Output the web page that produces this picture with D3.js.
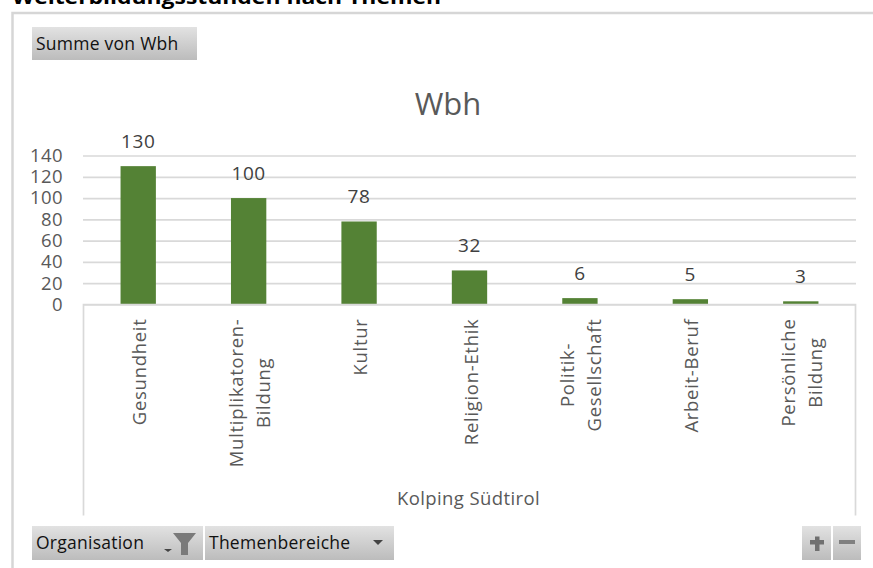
<!DOCTYPE html>
<html>
<head>
<meta charset="utf-8">
<script src="https://cdn.jsdelivr.net/npm/d3@7"></script>
<style>
  html, body { margin: 0; padding: 0; background: #fff; }
  svg { display: block; font-family: "Open Sans", "Noto Sans", sans-serif; }
</style>
</head>
<body>
<svg width="873" height="568"></svg>
<script>
const categories = ['Gesundheit', 'Multiplikatoren-|Bildung', 'Kultur', 'Religion-Ethik', 'Politik-|Gesellschaft', 'Arbeit-Beruf', 'Persönliche|Bildung'];
const values = [130, 100, 78, 32, 6, 5, 3];
const yTicks = [0, 20, 40, 60, 80, 100, 120, 140];
const filterButtons = ['Organisation', 'Themenbereiche'];

const svg = d3.select('svg');
const margin = { top: 155.5, right: 17, bottom: 263.5, left: 83 };
const width = 873, height = 568;
const innerWidth = width - margin.left - margin.right;
const innerHeight = height - margin.top - margin.bottom;

// gradient for the pivot buttons
const grad = svg.append('defs').append('linearGradient')
  .attr('id', 'btn').attr('x1', 0).attr('x2', 0).attr('y1', 0).attr('y2', 1);
grad.append('stop').attr('offset', '0%').attr('stop-color', '#e2e2e2');
grad.append('stop').attr('offset', '100%').attr('stop-color', '#bcbcbc');

// page heading, cut off at the top
svg.append('text').attr('x', 12).attr('y', 4)
  .attr('font-size', 20).attr('font-weight', 700).attr('fill', '#000')
  .attr('textLength', 429).attr('lengthAdjust', 'spacingAndGlyphs')
  .text('Weiterbildungsstunden nach Themen');

// outer frame
svg.append('path')
  .attr('d', 'M12.5 568V13H873')
  .attr('fill', 'none').attr('stroke', '#d6d6d6').attr('stroke-width', 2.5);

const button = (x, y, w, h, label) => {
  svg.append('rect').attr('x', x).attr('y', y).attr('width', w).attr('height', h).attr('fill', 'url(#btn)');
  if (label) {
    svg.append('text').attr('x', x + 4).attr('y', y + 23)
      .attr('font-size', 17.5).attr('letter-spacing', 0.25).attr('fill', '#111').text(label);
  }
};
button(32, 27, 165, 33, 'Summe von Wbh');
button(32, 526, 171, 34, filterButtons[0]);
button(205, 526, 189, 34, filterButtons[1]);
button(802, 526, 29, 34);
button(833, 526, 28, 34);

// funnel + dropdown arrows + zoom buttons
svg.append('path').attr('d', 'M173 533H196L188 543V555H181V543Z').attr('fill', '#7a7a7a');
svg.append('path').attr('d', 'M164 549H172L168 552Z').attr('fill', '#444');
svg.append('path').attr('d', 'M373 540H383L378 545Z').attr('fill', '#444');
svg.append('path').attr('d', 'M810 540H815V536.5H819.5V540H824V544.5H819.5V551H815V544.5H810Z').attr('fill', '#707070');
svg.append('rect').attr('x', 839).attr('y', 540).attr('width', 16).attr('height', 4).attr('fill', '#808080');

// chart title
svg.append('text').attr('x', 448).attr('y', 115)
  .attr('text-anchor', 'middle').attr('font-size', 31).attr('fill', '#595959').text('Wbh');

const g = svg.append('g').attr('transform', `translate(${margin.left},${margin.top})`);

const xScale = d3.scaleBand().domain(categories).range([0, innerWidth]).paddingInner(0.68).paddingOuter(0.34);
const yScale = d3.scaleLinear().domain([0, 140]).range([innerHeight, 0]);

// y axis with gridlines
const yAxis = d3.axisLeft(yScale).tickValues(yTicks).tickSize(-innerWidth).tickPadding(20);
const yAxisG = g.append('g').call(yAxis);
yAxisG.select('.domain').remove();
yAxisG.selectAll('line').attr('stroke', '#d9d9d9').attr('stroke-width', 1.7);
yAxisG.selectAll('text').attr('font-size', 18.5).attr('letter-spacing', 0.4).attr('fill', '#595959').attr('font-family', 'Open Sans, sans-serif');

// bars
g.selectAll('rect.bar').data(categories).enter().append('rect')
  .attr('class', 'bar')
  .attr('x', d => xScale(d))
  .attr('y', (d, i) => yScale(values[i]))
  .attr('width', xScale.bandwidth())
  .attr('height', (d, i) => innerHeight - yScale(values[i]))
  .attr('fill', '#548235');

// value labels
g.selectAll('text.value').data(categories).enter().append('text')
  .attr('class', 'value')
  .attr('x', d => xScale(d) + xScale.bandwidth() / 2)
  .attr('y', (d, i) => yScale(values[i]) - 18)
  .attr('text-anchor', 'middle')
  .attr('font-size', 19)
  .attr('letter-spacing', 0.6)
  .attr('fill', '#404040')
  .text((d, i) => values[i]);

// category box below the axis
g.append('path')
  .attr('d', `M0.5 ${innerHeight + 211}V${innerHeight}H${innerWidth - 0.5}V${innerHeight + 211}`)
  .attr('fill', 'none').attr('stroke', '#d9d9d9').attr('stroke-width', 1.7);

// rotated category labels, top aligned, wrapped lines centred on each other
const labelTop = 14;
categories.forEach(c => {
  const lines = c.split('|');
  const cx = xScale(c) + xScale.bandwidth() / 2;
  const offsets = lines.length > 1 ? [-6, 21.5] : [8];
  const texts = lines.map((l, i) => g.append('text')
    .attr('text-anchor', 'middle')
    .attr('font-size', 18.5)
    .attr('letter-spacing', 0.7)
    .attr('fill', '#595959')
    .text(l));
  const longest = d3.max(texts, t => t.node().getComputedTextLength());
  texts.forEach((t, i) => {
    t.attr('transform', `translate(${cx + offsets[i]},${innerHeight + labelTop + longest / 2}) rotate(-90)`);
  });
});

// outer category label
svg.append('text').attr('x', 468.5).attr('y', 505)
  .attr('text-anchor', 'middle').attr('font-size', 18.5).attr('letter-spacing', 0.4).attr('fill', '#595959').text('Kolping Südtirol');
</script>
</body>
</html>
